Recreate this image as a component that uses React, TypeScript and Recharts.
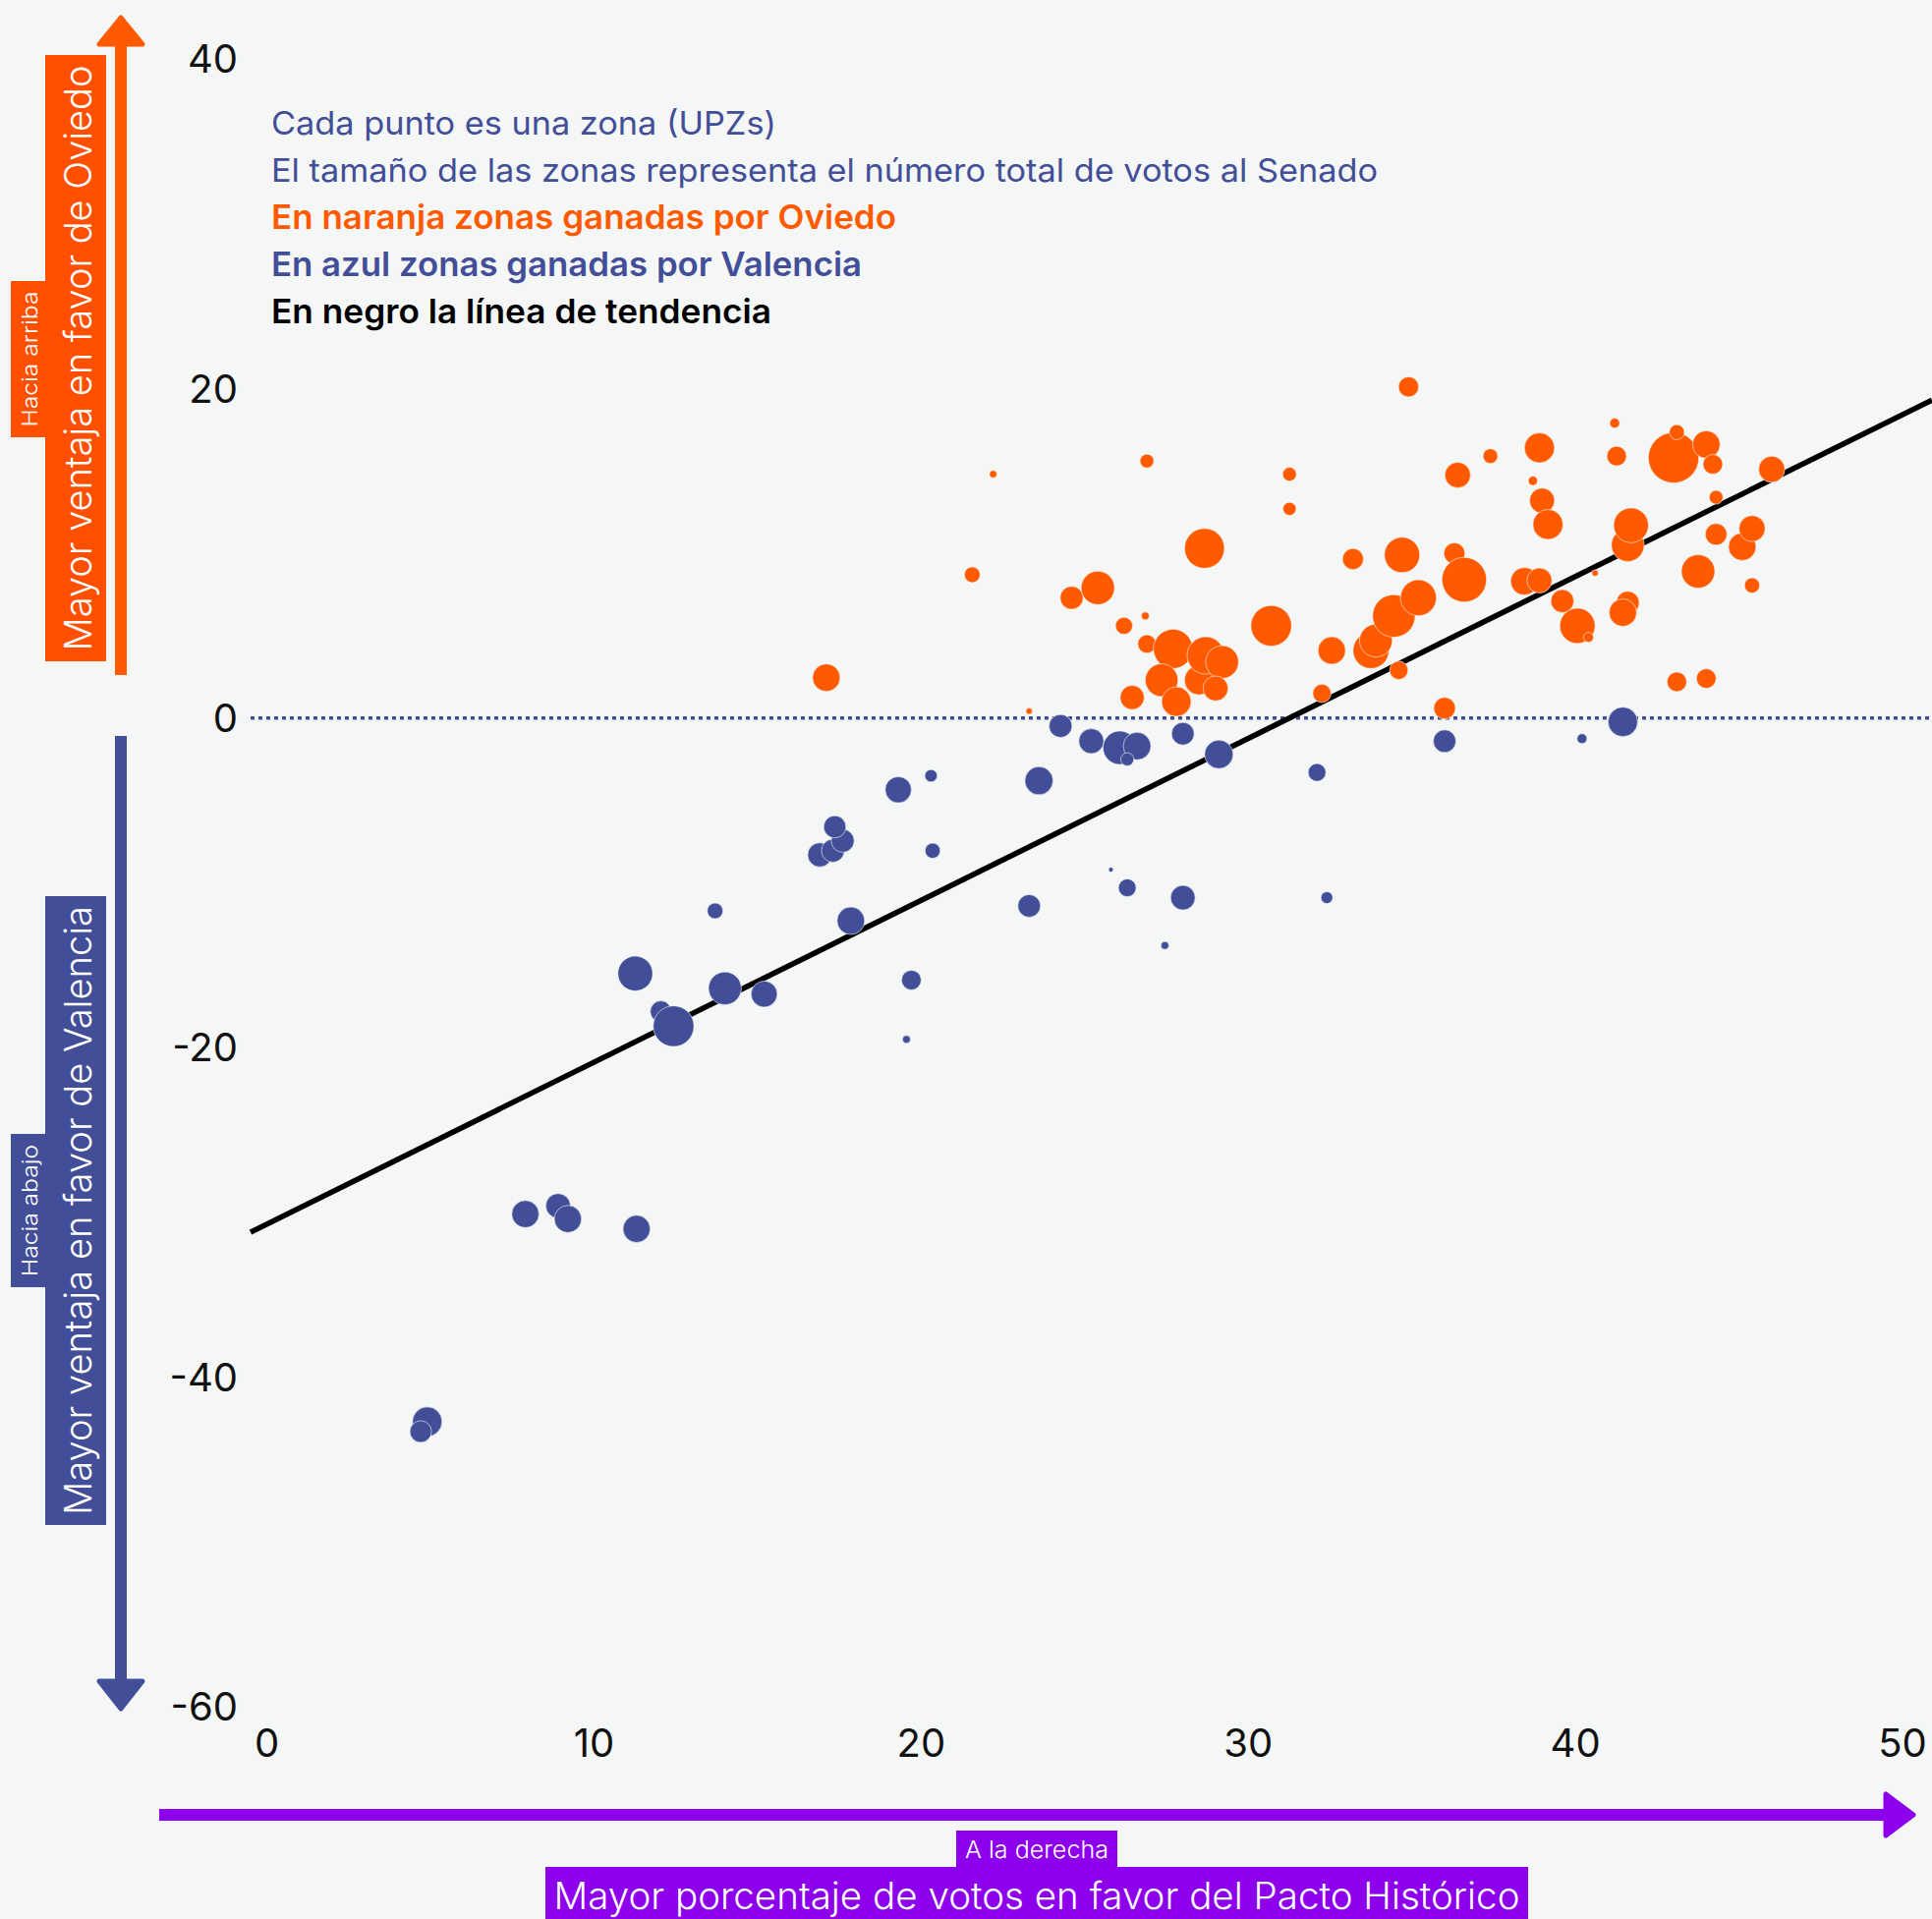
import React from "react";
import {
  ScatterChart,
  Scatter,
  XAxis,
  YAxis,
  ZAxis,
  ReferenceLine,
} from "recharts";

// Zonas ganadas por Oviedo: x = % Pacto Histórico, y = ventaja, v = miles de votos al Senado
const oviedoZonas = [
  { x: 34.9, y: 20.1, v: 15.9 },
  { x: 22.2, y: 14.8, v: 2.2 },
  { x: 26.9, y: 15.6, v: 7.4 },
  { x: 31.26, y: 14.8, v: 7.4 },
  { x: 31.26, y: 12.7, v: 6.7 },
  { x: 21.56, y: 8.7, v: 9.6 },
  { x: 24.6, y: 7.3, v: 20.5 },
  { x: 25.4, y: 7.9, v: 43.4 },
  { x: 28.66, y: 10.3, v: 61.8 },
  { x: 26.2, y: 5.6, v: 11.4 },
  { x: 26.85, y: 6.2, v: 2.4 },
  { x: 26.9, y: 4.5, v: 13.0 },
  { x: 27.7, y: 4.2, v: 60 },
  { x: 27.35, y: 2.3, v: 41.8 },
  { x: 26.45, y: 1.25, v: 22.7 },
  { x: 27.8, y: 1.0, v: 33.8 },
  { x: 28.5, y: 2.3, v: 33.8 },
  { x: 28.7, y: 3.8, v: 54.2 },
  { x: 29.2, y: 3.4, v: 41.8 },
  { x: 29.0, y: 1.8, v: 24.2 },
  { x: 23.3, y: 0.42, v: 1.6 },
  { x: 17.1, y: 2.45, v: 29.4 },
  { x: 30.7, y: 5.6, v: 64.3 },
  { x: 32.55, y: 4.1, v: 29.4 },
  { x: 32.25, y: 1.5, v: 13.0 },
  { x: 33.2, y: 9.65, v: 17.2 },
  { x: 34.7, y: 9.9, v: 48.6 },
  { x: 33.75, y: 4.1, v: 50.2 },
  { x: 33.9, y: 4.7, v: 41.8 },
  { x: 34.45, y: 6.2, v: 70.6 },
  { x: 35.2, y: 7.3, v: 50.2 },
  { x: 34.6, y: 2.9, v: 13.0 },
  { x: 36.0, y: 0.6, v: 18.2 },
  { x: 36.3, y: 10.0, v: 17.2 },
  { x: 36.4, y: 14.75, v: 25.4 },
  { x: 36.6, y: 8.4, v: 77.3 },
  { x: 37.4, y: 15.9, v: 8.4 },
  { x: 38.44, y: 8.3, v: 29.4 },
  { x: 38.9, y: 16.4, v: 35.1 },
  { x: 38.7, y: 14.4, v: 3.3 },
  { x: 38.98, y: 13.2, v: 24.2 },
  { x: 39.16, y: 11.75, v: 35.1 },
  { x: 38.9, y: 8.35, v: 24.2 },
  { x: 39.6, y: 7.1, v: 20.5 },
  { x: 40.06, y: 5.6, v: 48.6 },
  { x: 40.4, y: 4.9, v: 3.8 },
  { x: 40.6, y: 8.8, v: 1.6 },
  { x: 41.26, y: 15.9, v: 15 },
  { x: 41.2, y: 17.9, v: 3.8 },
  { x: 41.6, y: 10.5, v: 41.8 },
  { x: 41.7, y: 11.7, v: 47.0 },
  { x: 41.6, y: 7.0, v: 20.5 },
  { x: 41.45, y: 6.4, v: 29.4 },
  { x: 43.0, y: 15.8, v: 99.1 },
  { x: 43.1, y: 17.35, v: 8.9 },
  { x: 44.0, y: 16.6, v: 29.4 },
  { x: 44.2, y: 15.4, v: 15 },
  { x: 44.3, y: 13.4, v: 7.4 },
  { x: 44.3, y: 11.15, v: 18.2 },
  { x: 43.75, y: 8.9, v: 43.4 },
  { x: 45.1, y: 10.4, v: 29.4 },
  { x: 45.4, y: 11.5, v: 26.5 },
  { x: 45.4, y: 8.05, v: 8.9 },
  { x: 46.0, y: 15.1, v: 26.5 },
  { x: 43.1, y: 2.2, v: 15 },
  { x: 44.0, y: 2.4, v: 15 },
];

// Zonas ganadas por Valencia
const valenciaZonas = [
  { x: 4.9, y: -42.7, v: 33.8 },
  { x: 4.7, y: -43.3, v: 18.2 },
  { x: 7.9, y: -30.1, v: 28.6 },
  { x: 8.9, y: -29.6, v: 23.4 },
  { x: 9.2, y: -30.4, v: 28.6 },
  { x: 11.3, y: -31.0, v: 28.6 },
  { x: 11.26, y: -15.5, v: 47.0 },
  { x: 12.04, y: -17.8, v: 17.2 },
  { x: 12.43, y: -18.7, v: 64.3 },
  { x: 14.0, y: -16.4, v: 41.8 },
  { x: 15.2, y: -16.75, v: 26.5 },
  { x: 13.7, y: -11.7, v: 9.6 },
  { x: 16.9, y: -8.3, v: 22.7 },
  { x: 17.3, y: -8.05, v: 20.5 },
  { x: 17.6, y: -7.45, v: 20.5 },
  { x: 17.36, y: -6.6, v: 19.2 },
  { x: 17.85, y: -12.3, v: 29.4 },
  { x: 19.3, y: -4.35, v: 26.5 },
  { x: 20.3, y: -3.5, v: 6.0 },
  { x: 20.35, y: -8.05, v: 8.9 },
  { x: 19.7, y: -15.9, v: 15 },
  { x: 19.55, y: -19.5, v: 2.4 },
  { x: 23.6, y: -3.8, v: 30.7 },
  { x: 23.3, y: -11.4, v: 19.8 },
  { x: 24.26, y: -0.48, v: 20.5 },
  { x: 25.2, y: -1.4, v: 24.2 },
  { x: 26.07, y: -1.8, v: 43.4 },
  { x: 26.6, y: -1.7, v: 29.4 },
  { x: 26.3, y: -2.5, v: 6.7 },
  { x: 25.8, y: -9.2, v: 0.9 },
  { x: 26.3, y: -10.3, v: 12.2 },
  { x: 27.45, y: -13.8, v: 2.4 },
  { x: 28.0, y: -10.9, v: 23.4 },
  { x: 28.0, y: -0.95, v: 19.8 },
  { x: 29.1, y: -2.2, v: 31.5 },
  { x: 32.1, y: -3.3, v: 12.2 },
  { x: 32.4, y: -10.9, v: 5.4 },
  { x: 36.0, y: -1.4, v: 19.8 },
  { x: 40.2, y: -1.25, v: 3.8 },
  { x: 41.45, y: -0.23, v: 33.8 },
];

const tendencia = [
  { x: -0.5, y: -31.2 },
  { x: 50.9, y: 19.3 },
];

const xTicks = [0, 10, 20, 30, 40, 50];
const yTicks = [-60, -40, -20, 0, 20, 40];

const notas = [
  "Cada punto es una zona (UPZs)",
  "El tamaño de las zonas representa el número total de votos al Senado",
  "En naranja zonas ganadas por Oviedo",
  "En azul zonas ganadas por Valencia",
  "En negro la línea de tendencia",
];

const BG = "#F4F7F5";
const ORANGE = "#FF5A00";
const ORANGE_BOX = "#FF4F00";
const BLUE = "#434E98";
const PURPLE = "#8C00EC";
const FONT = "Inter, 'Noto Sans', sans-serif";

const notaEstilos = [
  { color: BLUE, weight: 400, size: 33, len: 514 },
  { color: BLUE, weight: 400, size: 33, len: 1126 },
  { color: ORANGE, weight: 600, size: 34, len: 636 },
  { color: BLUE, weight: 600, size: 34, len: 601 },
  { color: "#000000", weight: 600, size: 34, len: 509 },
];

export default function App() {
  return (
    <div
      style={{
        position: "absolute",
        left: 0,
        top: 0,
        width: 1966,
        height: 1953,
        background: BG,
        overflow: "hidden",
        fontFamily: FONT,
      }}
    >
      <ScatterChart
        width={1966}
        height={1953}
        margin={{ top: 60, right: 0, bottom: 156, left: 195 }}
        style={{ fontFamily: FONT }}
      >
        <XAxis
          type="number"
          dataKey="x"
          domain={[-0.5, 50.9]}
          allowDataOverflow
          ticks={xTicks}
          height={60}
          axisLine={false}
          tickLine={false}
          tickSize={0}
          tickMargin={23}
          interval={0}
          tick={{ fontSize: 40, fill: "#111111", fontFamily: FONT }}
        />
        <YAxis
          type="number"
          dataKey="y"
          domain={[-60, 40]}
          allowDataOverflow
          ticks={yTicks}
          width={60}
          axisLine={false}
          tickLine={false}
          tickSize={0}
          tickMargin={13}
          interval={0}
          tick={{ fontSize: 40, fill: "#111111", fontFamily: FONT }}
        />
        <ZAxis type="number" dataKey="v" domain={[0, 100]} range={[0, 2094]} />
        <ReferenceLine
          y={0}
          stroke={BLUE}
          strokeWidth={3.5}
          strokeDasharray="4 4"
        />
        <Scatter
          data={valenciaZonas}
          fill={BLUE}
          stroke={BG}
          strokeWidth={0.6}
          isAnimationActive={false}
        />
        <Scatter
          data={oviedoZonas}
          fill={ORANGE}
          stroke={BG}
          strokeWidth={0.6}
          isAnimationActive={false}
        />
        <ReferenceLine
          segment={tendencia}
          stroke="#000000"
          strokeWidth={5.5}
          ifOverflow="visible"
        />
      </ScatterChart>

      <svg
        width={1966}
        height={1953}
        style={{ position: "absolute", left: 0, top: 0, pointerEvents: "none" }}
      >
        {notas.map((t, i) => (
          <text
            key={i}
            x={276}
            y={137 + i * 48}
            fontSize={notaEstilos[i].size}
            fontWeight={notaEstilos[i].weight}
            fill={notaEstilos[i].color}
            fontFamily={FONT}
            textLength={notaEstilos[i].len}
            lengthAdjust="spacingAndGlyphs"
          >
            {t}
          </text>
        ))}

        {/* flecha naranja */}
        <rect x={117} y={44} width={12} height={643} fill={ORANGE} />
        <polygon
          points="123,18 145,45 101,45"
          fill={ORANGE}
          stroke={ORANGE}
          strokeWidth={5}
          strokeLinejoin="round"
        />
        <rect x={46} y={56} width={62} height={617} fill={ORANGE_BOX} />
        <rect x={11} y={286} width={35} height={159} fill={ORANGE_BOX} />
        <text
          transform="translate(79,364.5) rotate(-90)"
          textAnchor="middle"
          dominantBaseline="central"
          fontSize={38}
          fontWeight={300}
          fill="#ffffff"
          fontFamily={FONT}
          textLength={596}
          lengthAdjust="spacingAndGlyphs"
        >
          Mayor ventaja en favor de Oviedo
        </text>
        <text
          transform="translate(30,365.5) rotate(-90)"
          textAnchor="middle"
          dominantBaseline="central"
          fontSize={22}
          fontWeight={300}
          fill="#ffffff"
          fontFamily={FONT}
          textLength={138}
          lengthAdjust="spacingAndGlyphs"
        >
          Hacia arriba
        </text>

        {/* flecha azul */}
        <rect x={117} y={749} width={12} height={966} fill={BLUE} />
        <polygon
          points="123,1739 145,1711 101,1711"
          fill={BLUE}
          stroke={BLUE}
          strokeWidth={5}
          strokeLinejoin="round"
        />
        <rect x={46} y={912} width={62} height={640} fill={BLUE} />
        <rect x={11} y={1154} width={35} height={156} fill={BLUE} />
        <text
          transform="translate(79,1232) rotate(-90)"
          textAnchor="middle"
          dominantBaseline="central"
          fontSize={38}
          fontWeight={300}
          fill="#ffffff"
          fontFamily={FONT}
          textLength={620}
          lengthAdjust="spacingAndGlyphs"
        >
          Mayor ventaja en favor de Valencia
        </text>
        <text
          transform="translate(30,1232) rotate(-90)"
          textAnchor="middle"
          dominantBaseline="central"
          fontSize={22}
          fontWeight={300}
          fill="#ffffff"
          fontFamily={FONT}
          textLength={134}
          lengthAdjust="spacingAndGlyphs"
        >
          Hacia abajo
        </text>

        {/* flecha morada */}
        <rect x={162} y={1841} width={1758} height={12} fill={PURPLE} />
        <polygon
          points="1947,1847 1919,1826 1919,1868"
          fill={PURPLE}
          stroke={PURPLE}
          strokeWidth={5}
          strokeLinejoin="round"
        />
        <rect x={973} y={1863} width={164} height={37} fill={PURPLE} />
        <text
          x={1055}
          y={1891}
          textAnchor="middle"
          fontSize={24}
          fontWeight={300}
          fill="#ffffff"
          fontFamily={FONT}
          textLength={146}
          lengthAdjust="spacingAndGlyphs"
        >
          A la derecha
        </text>
        <rect x={555} y={1900} width={1000} height={53} fill={PURPLE} />
        <text
          x={1055}
          y={1943}
          textAnchor="middle"
          fontSize={38}
          fontWeight={300}
          fill="#ffffff"
          fontFamily={FONT}
          textLength={983}
          lengthAdjust="spacingAndGlyphs"
        >
          Mayor porcentaje de votos en favor del Pacto Histórico
        </text>
      </svg>
    </div>
  );
}
